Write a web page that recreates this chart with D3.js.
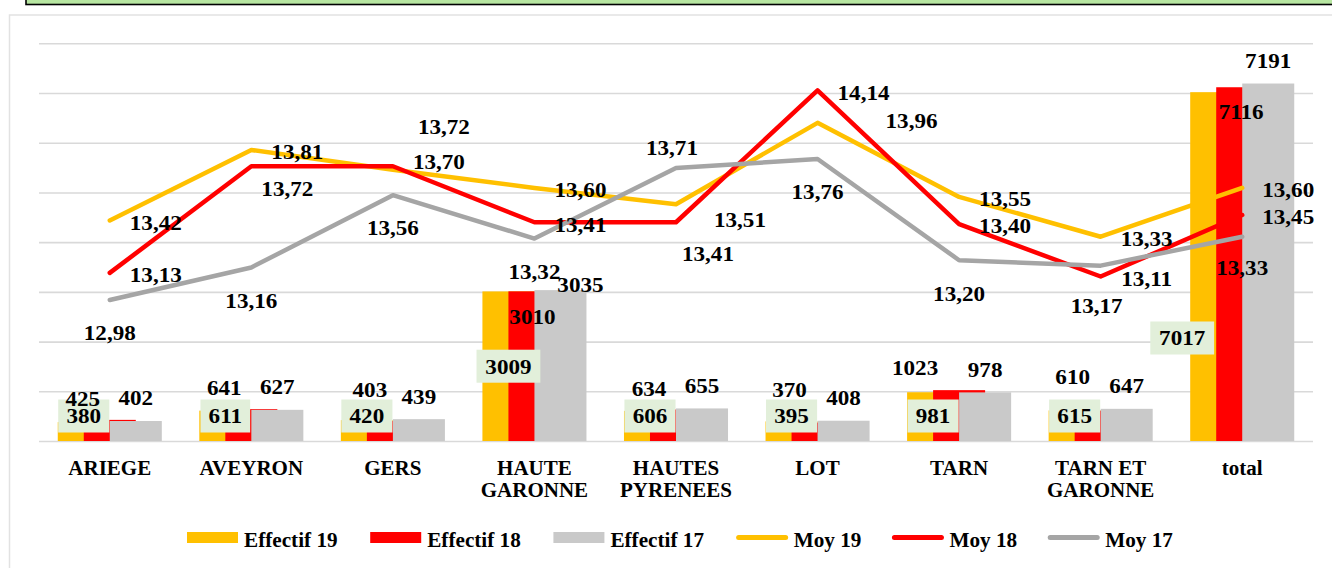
<!DOCTYPE html>
<html lang="fr">
<head>
<meta charset="utf-8">
<title>Effectifs et moyennes par département</title>
<script src="https://d3js.org/d3.v7.min.js"></script>
<style>
  body { margin: 0; background: #fff; }
</style>
</head>
<body>
<script>

  // ---- data ----
  var categories = ["ARIEGE", "AVEYRON", "GERS", "HAUTE GARONNE", "HAUTES PYRENEES", "LOT", "TARN", "TARN ET GARONNE", "total"]
  var effectif19 = [380, 611, 420, 3009, 606, 395, 981, 615, 7017]
  var effectif18 = [425, 641, 403, 3010, 634, 370, 1023, 610, 7116]
  var effectif17 = [402, 627, 439, 3035, 655, 408, 978, 647, 7191]
  var moy19 = [13.42, 13.81, 13.70, 13.60, 13.51, 13.96, 13.55, 13.33, 13.60]
  var moy18 = [13.13, 13.72, 13.72, 13.41, 13.41, 14.14, 13.40, 13.11, 13.45]
  var moy17 = [12.98, 13.16, 13.56, 13.32, 13.71, 13.76, 13.20, 13.17, 13.33]
  var barTicks = [0, 1000, 2000, 3000, 4000, 5000, 6000, 7000, 8000]

  var width = 1332, height = 568
  var FONT = "Liberation Serif"

  var svg = d3.select("body").append("svg")
              .attr("width", width)
              .attr("height", height)

  // frame pieces around the chart
  svg.append("rect").attr("x", 26).attr("y", -10).attr("width", 1320).attr("height", 14.5)
     .attr("fill", "#b7e6a1").attr("stroke", "#000").attr("stroke-width", 1.6)
  svg.append("rect").attr("x", 9.5).attr("y", 15).attr("width", 1340).attr("height", 600)
     .attr("fill", "none").attr("stroke", "#e2e2e2").attr("stroke-width", 1.5)

  var x = d3.scaleBand()
            .domain(categories)
            .range([39, 1313])
            .paddingInner(0.265)
            .paddingOuter(0.1325)
  var y = d3.scaleLinear().domain([0, 8000]).range([441, 43.3])
  var y2 = d3.scaleLinear().domain([12.2, 14.4]).range([441, 43.3])  // hidden secondary axis
  var bw = x.bandwidth()

  // gridlines
  var grid = svg.append("g")
                .attr("transform", "translate(39,0)")
                .call(d3.axisLeft(y).tickValues(barTicks).tickSize(-(1313 - 39)).tickFormat(""))
  grid.select(".domain").remove()
  grid.selectAll(".tick line").attr("stroke", "#d9d9d9").attr("stroke-width", 1.6)

  var bars = [
    {name: "Effectif 19", values: effectif19, color: "#FFC000"},
    {name: "Effectif 18", values: effectif18, color: "#FF0000"},
    {name: "Effectif 17", values: effectif17, color: "#C9C9C9"}
  ]
  var lines = [
    {name: "Moy 19", values: moy19, color: "#FFC000"},
    {name: "Moy 18", values: moy18, color: "#FF0000"},
    {name: "Moy 17", values: moy17, color: "#A5A5A5"}
  ]

  bars.forEach(function(s, i){
    svg.append("g")
       .selectAll("rect")
       .data(s.values)
       .enter().append("rect")
       .attr("x", function(d, j){ return x(categories[j]) + i * bw / 4 })
       .attr("width", bw / 2)
       .attr("y", function(d){ return y(d) })
       .attr("height", function(d){ return y(0) - y(d) })
       .attr("fill", s.color)
  })

  var line = d3.line()
               .x(function(d, j){ return x(categories[j]) + bw / 2 })
               .y(function(d){ return y2(d) })

  lines.forEach(function(s){
    svg.append("path")
       .datum(s.values)
       .attr("d", line)
       .attr("fill", "none")
       .attr("stroke", s.color)
       .attr("stroke-width", 4.5)
       .attr("stroke-linejoin", "round")
       .attr("stroke-linecap", "round")
  })

  // the picture's glyphs are a bit wider than Liberation's
  function stretch(sel, k){
    sel.each(function(){
      var w = this.getComputedTextLength()
      d3.select(this).attr("textLength", w * k).attr("lengthAdjust", "spacingAndGlyphs")
    })
  }

  var fmt = function(v){ return d3.format(".2f")(v).replace(".", ",") }
  var labels = svg.append("g").attr("font-size", 21).attr("font-family", FONT).attr("font-weight", "bold")

  // Effectif 19 : boxed labels near the base of the bar
  var box19 = {"HAUTE GARONNE": "mid", "total": [-34, 338]}
  effectif19.forEach(function(v, j){
    var c = categories[j], cx = x(c) + bw / 4, cy = y(0) - 25
    if (box19[c] == "mid") cy = y(v / 2)
    else if (box19[c]) { cx += box19[c][0]; cy = box19[c][1] }
    var g = labels.append("g")
    var r = g.append("rect").attr("fill", "#E2EFDA")
    var t = g.append("text").attr("x", cx).attr("y", cy).attr("dy", "0.35em")
             .attr("text-anchor", "middle").text(v)
    t.call(stretch, 1.1)
    var w = t.node().getComputedTextLength() * 1.1 + 13
    r.attr("x", cx - w / 2).attr("y", cy - 16.5).attr("width", w).attr("height", 33)
  })

  // Effectif 18 : shifted left, above the bar
  var nudge18 = {"GERS": [-23, -31], "LOT": [-28, -33], "TARN ET GARONNE": [-28, -34],
                 "TARN": [-44, -22], "HAUTE GARONNE": [-2, 25], "total": [-1, 24]}
  effectif18.forEach(function(v, j){
    var c = categories[j], o = nudge18[c] || [-27, -21]
    labels.append("text")
          .attr("x", x(c) + bw / 2 + o[0]).attr("y", y(v) + o[1]).attr("dy", "0.35em")
          .attr("text-anchor", "middle").text(v)
          .call(stretch, 1.1)
  })

  // Effectif 17 : outside end
  var nudge17 = {"HAUTE GARONNE": [20, -5]}
  effectif17.forEach(function(v, j){
    var c = categories[j], o = nudge17[c] || [0, -23]
    labels.append("text")
          .attr("x", x(c) + bw * 3 / 4 + o[0]).attr("y", y(v) + o[1]).attr("dy", "0.35em")
          .attr("text-anchor", "middle").text(v)
          .call(stretch, 1.1)
  })

  // line labels
  var lineNudge = [
    {def: [46, 2], "GERS": [46, -8], "HAUTES PYRENEES": [64, 15], "LOT": [94, -2]},
    {def: [46, 2], "AVEYRON": [36, 22], "GERS": [51, -40], "HAUTES PYRENEES": [32, 31]},
    {def: [0, 33], "HAUTES PYRENEES": [-4, -20], "TARN ET GARONNE": [-4, 40], "total": [0, 31]}
  ]
  lines.forEach(function(s, i){
    s.values.forEach(function(v, j){
      var c = categories[j], o = lineNudge[i][c] || lineNudge[i].def
      labels.append("text")
            .attr("x", x(c) + bw / 2 + o[0]).attr("y", y2(v) + o[1]).attr("dy", "0.35em")
            .attr("text-anchor", "middle").text(fmt(v))
            .call(stretch, 1.1)
    })
  })

  // category labels, long names on two lines
  var cats = svg.append("g").attr("font-size", 20).attr("font-family", FONT).attr("font-weight", "bold")
  categories.forEach(function(c){
    var parts = c.length > 10 ? [c.slice(0, c.lastIndexOf(" ")), c.slice(c.lastIndexOf(" ") + 1)] : [c]
    parts.forEach(function(p, k){
      cats.append("text")
          .attr("x", x(c) + bw / 2).attr("y", 475 + k * 22)
          .attr("text-anchor", "middle").text(p)
          .call(stretch, 1.05)
    })
  })

  // legend, spread between x=187 and x=1177
  var legend = svg.append("g").attr("font-size", 20).attr("font-family", FONT).attr("font-weight", "bold")
  var items = bars.map(function(s){ return {name: s.name, color: s.color, kind: "bar"} })
                  .concat(lines.map(function(s){ return {name: s.name, color: s.color, kind: "line"} }))
  var groups = [], widths = []
  items.forEach(function(it){
    var g = legend.append("g")
    if (it.kind == "bar")
      g.append("rect").attr("x", 0).attr("y", 532).attr("width", 51).attr("height", 11).attr("fill", it.color)
    else
      g.append("line").attr("x1", 2).attr("x2", 49).attr("y1", 537.5).attr("y2", 537.5)
       .attr("stroke", it.color).attr("stroke-width", 5).attr("stroke-linecap", "round")
    var t = g.append("text").attr("x", 57).attr("y", 540).attr("dy", "0.35em").text(it.name)
    t.call(stretch, 1.06)
    groups.push(g)
    widths.push(57 + t.node().getComputedTextLength() * 1.06)
  })
  var gap = (1177 - 187 - d3.sum(widths)) / (items.length - 1)
  var lx = 187
  groups.forEach(function(g, i){
    g.attr("transform", "translate(" + lx + ",0)")
    lx += widths[i] + gap
  })

</script>
</body>
</html>
